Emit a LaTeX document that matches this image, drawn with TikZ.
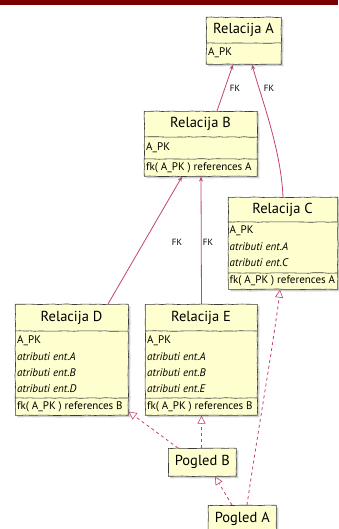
\documentclass[tikz,border=0pt]{standalone}
\usepackage{fontspec}
\setmainfont{PT Sans}
\usetikzlibrary{arrows.meta,decorations.pathmorphing,shadows}
\definecolor{classfill}{HTML}{FEFECE}
\definecolor{classline}{HTML}{3B3B3B}
\definecolor{linkred}{HTML}{C2446F}
\definecolor{barred}{HTML}{7A0000}
\begin{document}
\pgfmathsetseed{7}
\begin{tikzpicture}[x=1pt,y=-1pt,
  wobble/.style={decorate,decoration={random steps,segment length=5pt,amplitude=0.3pt}},
  classbox/.style={draw=classline, line width=0.6pt, fill=classfill, inner sep=0pt,
    anchor=north west, wobble,
    drop shadow={shadow xshift=2pt,shadow yshift=-2pt,fill=black!30,opacity=0.6}},
  classtitle/.style={font=\fontsize{14.5}{16}\selectfont, inner sep=0pt},
  rowtext/.style={font=\fontsize{11}{12}\selectfont, anchor=west, inner sep=0pt},
  attrtext/.style={rowtext, font=\fontsize{11}{12}\selectfont\itshape},
  divider/.style={draw=classline, line width=0.6pt, wobble},
  fklink/.style={draw=linkred, line width=0.8pt, -{Stealth[length=5pt,width=4pt]}},
  realize/.style={draw=linkred, line width=0.8pt, dash pattern=on 3pt off 3pt,
    -{Triangle[open,length=8pt,width=8pt,fill=white,line width=0.6pt]}},
  fklabel/.style={font=\fontsize{9}{11}\selectfont, inner sep=0pt},
  viewbox/.style={classbox, minimum width=68pt, minimum height=28pt,
    font=\fontsize{14.5}{16}\selectfont},
]
\useasboundingbox (0,0) rectangle (338,529);
\fill[white] (0,0) rectangle (338,529);
% header strip
\fill[barred] (0,0) rectangle (338,5.5);

% ---- Relacija A ----
\node[classbox, minimum width=75pt, minimum height=47pt] (relA) at (206,17) {};
\node[classtitle] (relAt) at (243.5,30) {Relacija A};
\draw[divider] (206,43) -- (281,43);
\node[rowtext] (relA1) at (208,53) {A\_PK};

% ---- Relacija B ----
\node[classbox, minimum width=113pt, minimum height=65pt] (relB) at (144,111) {};
\node[classtitle] (relBt) at (200.5,124) {Relacija B};
\draw[divider] (144,137) -- (257,137);
\node[rowtext] (relB1) at (146,148) {A\_PK};
\draw[divider] (144,159) -- (257,159);
\node[rowtext] (relB2) at (146,167.5) {fk( A\_PK ) references A};

% ---- Relacija C ----
\node[classbox, minimum width=109.5pt, minimum height=92pt] (relC) at (228,197) {};
\node[classtitle] (relCt) at (282.5,210) {Relacija C};
\draw[divider] (228,222) -- (337.5,222);
\node[rowtext] (relC1) at (229.5,231) {A\_PK};
\node[attrtext] (relC2) at (229.5,247) {atributi ent.A};
\node[attrtext] (relC3) at (229.5,263) {atributi ent.C};
\draw[divider] (228,273) -- (337.5,273);
\node[rowtext] (relC4) at (229.5,281) {fk( A\_PK ) references A};

% ---- Relacija D ----
\node[classbox, minimum width=113pt, minimum height=111pt] (relD) at (15,304) {};
\node[classtitle] (relDt) at (71.5,318) {Relacija D};
\draw[divider] (15,331) -- (128,331);
\node[rowtext] (relD1) at (17,341) {A\_PK};
\node[attrtext] (relD2) at (17,357) {atributi ent.A};
\node[attrtext] (relD3) at (17,373) {atributi ent.B};
\node[attrtext] (relD4) at (17,389) {atributi ent.D};
\draw[divider] (15,398) -- (128,398);
\node[rowtext] (relD5) at (17,407) {fk( A\_PK ) references B};

% ---- Relacija E ----
\node[classbox, minimum width=112pt, minimum height=111pt] (relE) at (145,304) {};
\node[classtitle] (relEt) at (201,318) {Relacija E};
\draw[divider] (145,331) -- (257,331);
\node[rowtext] (relE1) at (147,341) {A\_PK};
\node[attrtext] (relE2) at (147,357) {atributi ent.A};
\node[attrtext] (relE3) at (147,373) {atributi ent.B};
\node[attrtext] (relE4) at (147,389) {atributi ent.E};
\draw[divider] (145,398) -- (257,398);
\node[rowtext] (relE5) at (147,407) {fk( A\_PK ) references B};

% ---- views ----
\node[viewbox] (pogB) at (168,448) {Pogled B};
\node[viewbox] (pogA) at (208,505) {Pogled A};

% ---- foreign keys ----
\draw[fklink] ([xshift=73pt]relB.north west) -- ([xshift=27pt]relA.south west);
\node[fklabel] (fkBA) at (235,88) {FK};
\draw[fklink] ([xshift=55pt]relC.north west) .. controls (281,150) and (262,100) .. ([xshift=46pt]relA.south west);
\node[fklabel] (fkCA) at (269,88) {FK};
\draw[fklink] ([xshift=93pt]relD.north west) -- ([xshift=38pt]relB.south west);
\node[fklabel] (fkDB) at (177,242) {FK};
\draw[fklink] ([xshift=56.5pt]relE.north west) -- ([xshift=57pt]relB.south west);
\node[fklabel] (fkEB) at (208,242) {FK};

% ---- view dependencies ----
\draw[realize] ([xshift=10pt]pogB.north west) -- ([yshift=4pt]relD.south east);
\draw[realize] ([xshift=33.5pt]pogB.north west) -- ([xshift=56.5pt]relE.south west);
\draw[realize] ([xshift=24pt]pogA.north west) -- ([xshift=47pt]pogB.south west);
\draw[realize] ([xshift=39pt]pogA.north west) .. controls (258,430) and (274,340) .. ([xshift=52pt]relC.south west);
\end{tikzpicture}
\end{document}
